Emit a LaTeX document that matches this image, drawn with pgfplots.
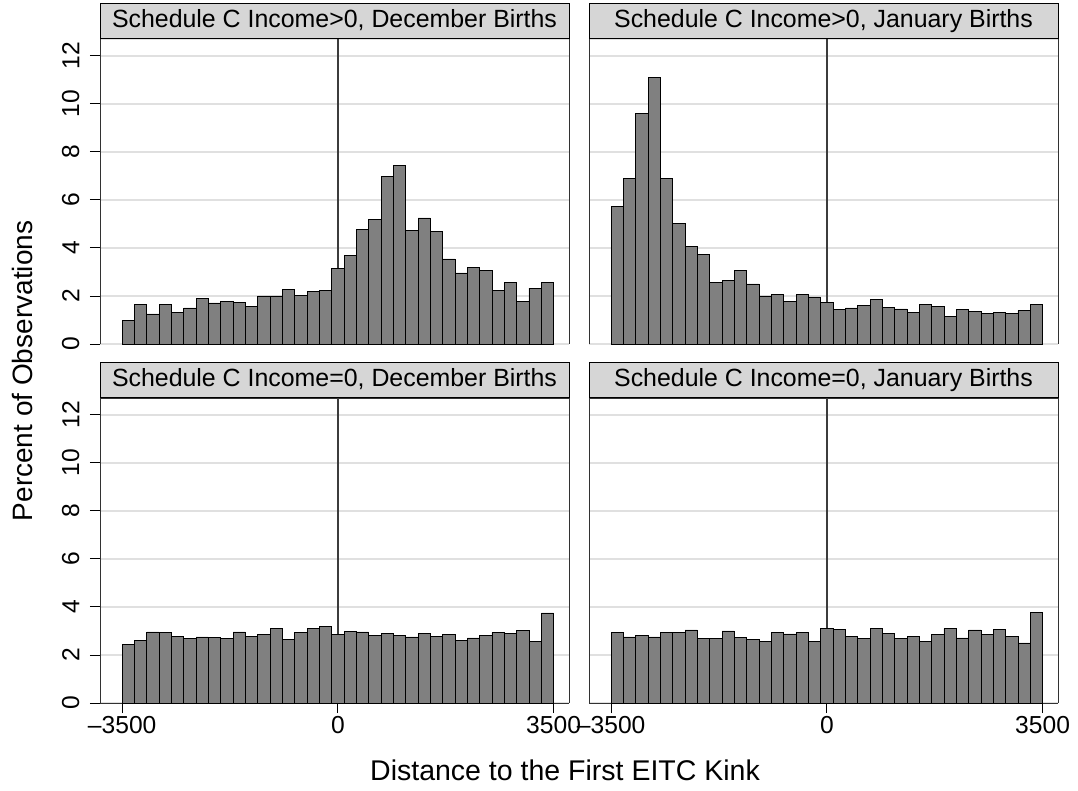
\documentclass[border=0pt]{standalone}
\usepackage{pgfplots}
\pgfplotsset{compat=1.18}
\usepackage{pgfplotstable}
\usepackage{fontspec}
\setmainfont{Liberation Sans}
\definecolor{barg}{RGB}{128,128,128}
\definecolor{headg}{RGB}{214,214,214}
\definecolor{gridg}{RGB}{224,224,224}
\definecolor{zerog}{RGB}{60,60,60}
\definecolor{frameg}{RGB}{50,50,50}

\pgfplotstableread{
x tl tr bl br
-3400 0.97 5.72 2.43 2.93
-3200 1.63 6.875 2.60 2.75
-3000 1.25 9.61 2.96 2.81
-2800 1.63 11.10 2.93 2.75
-2600 1.31 6.875 2.76 2.93
-2400 1.50 5.01 2.68 2.93
-2200 1.88 4.08 2.75 3.04
-2000 1.71 3.71 2.72 2.68
-1800 1.76 2.58 2.68 2.67
-1600 1.74 2.64 2.96 3.00
-1400 1.58 3.06 2.78 2.72
-1200 2.00 2.50 2.85 2.63
-1000 2.00 2.00 3.11 2.56
-800 2.29 2.07 2.63 2.93
-600 2.04 1.79 2.92 2.875
-400 2.17 2.07 3.11 2.93
-200 2.22 1.96 3.17 2.58
0 3.14 1.72 2.86 3.10
200 3.67 1.43 2.99 3.06
400 4.78 1.50 2.96 2.78
600 5.17 1.61 2.82 2.68
800 6.97 1.85 2.89 3.10
1000 7.43 1.52 2.81 2.89
1200 4.74 1.46 2.75 2.68
1400 5.25 1.31 2.89 2.78
1600 4.67 1.64 2.76 2.57
1800 3.54 1.56 2.85 2.86
2000 2.96 1.14 2.60 3.10
2200 3.17 1.45 2.71 2.71
2400 3.08 1.37 2.83 3.04
2600 2.22 1.28 2.93 2.86
2800 2.56 1.31 2.90 3.06
3000 1.76 1.26 3.01 2.76
3200 2.33 1.39 2.56 2.50
3400 2.58 1.64 3.75 3.76
}\data

\tikzset{
  hdr/.style={anchor=south, draw=black, line width=0.9pt, fill=headg,
    minimum width=469pt, minimum height=35pt, inner sep=0pt,
    text height=18pt, text depth=5pt,
    font=\fontsize{24.9}{28}\selectfont},
}

\pgfplotsset{
  panel/.style={
    scale only axis, width=469pt, height=305pt,
    xmin=-3860, xmax=3750, ymin=0, ymax=12.7,
    clip=false,
    ytick={0,2,4,6,8,10,12}, xtick={-3500,0,3500},
    xticklabels={--3500,0,3500},
    yticklabels={0,2,4,6,8,10,12},
    xtick pos=left, ytick pos=left,
    tick align=outside, major tick length=10pt,
    tick style={black, line width=0.9pt},
    ymajorgrids, grid style={gridg, line width=1.6pt},
    separate axis lines,
    axis line style={frameg, line width=0.9pt},
    tick label style={font=\fontsize{24.6}{28}\selectfont},
    yticklabel style={rotate=90, anchor=south},
    yticklabel shift=7pt,
  },
  toppanel/.style={xticklabels={}, xtick style={draw=none}, x axis line style={gridg, line width=1.6pt}},
  rightpanel/.style={yticklabels={}, ytick style={draw=none}},
  bars/.style={ybar, bar width=200, bar shift=0pt, fill=barg, draw=black, line width=0.8pt},
  zl/.style={zerog, line width=1.5pt},
}

\begin{document}
\begin{tikzpicture}
\path[use as bounding box] (0,0) rectangle (1078pt,790pt);

\begin{axis}[panel, toppanel, at={(100pt,446pt)}, anchor=south west]
\addplot[zl] coordinates {(0,0) (0,12.7)};
\addplot[bars] table[x=x,y=tl]{\data};
\node[hdr] at (rel axis cs:0.5,1) {Schedule C Income>0, December Births};
\end{axis}

\begin{axis}[panel, toppanel, rightpanel, at={(589pt,446pt)}, anchor=south west]
\addplot[zl] coordinates {(0,0) (0,12.7)};
\addplot[bars] table[x=x,y=tr]{\data};
\node[hdr] at (rel axis cs:0.5,1) {Schedule C Income>0, January Births};
\end{axis}

\begin{axis}[panel, at={(100pt,87pt)}, anchor=south west]
\addplot[zl] coordinates {(0,0) (0,12.7)};
\addplot[bars] table[x=x,y=bl]{\data};
\node[hdr] at (rel axis cs:0.5,1) {Schedule C Income=0, December Births};
\end{axis}

\begin{axis}[panel, rightpanel, at={(589pt,87pt)}, anchor=south west]
\addplot[zl] coordinates {(0,0) (0,12.7)};
\addplot[bars] table[x=x,y=br]{\data};
\node[hdr] at (rel axis cs:0.5,1) {Schedule C Income=0, January Births};
\end{axis}

\node[rotate=90, font=\fontsize{28}{32}\selectfont] at (22pt,419pt) {Percent of Observations};
\node[anchor=base, font=\fontsize{28.5}{32}\selectfont] at (565pt,10pt) {Distance to the First EITC Kink};
\end{tikzpicture}
\end{document}
